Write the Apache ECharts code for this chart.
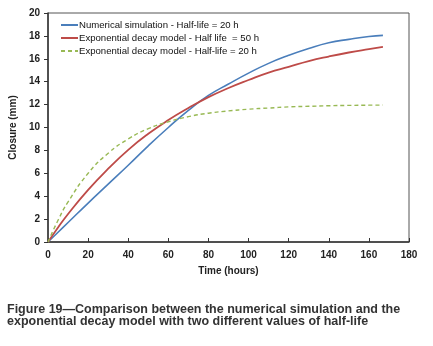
<!DOCTYPE html>
<html>
<head>
<meta charset="utf-8">
<script src="https://cdn.jsdelivr.net/npm/echarts@6/dist/echarts.min.js"></script>
<style>
  html, body { margin: 0; padding: 0; background: #fff; }
  #chart { width: 433px; height: 346px; }
</style>
</head>
<body>
<div id="chart"></div>
<script>
// time in hours
var times = [0, 5, 10, 20, 30, 40, 50, 60, 70, 80, 90, 100, 110, 120, 130, 140, 150, 160, 167];
// closure (mm)
var numericalSim = [0, 0.85, 1.7, 3.4, 5.05, 6.7, 8.4, 10.0, 11.5, 12.8, 13.8, 14.75, 15.6, 16.3, 16.9, 17.4, 17.7, 17.95, 18.05];
var expDecay50 = [0, 1.27, 2.45, 4.55, 6.4, 8.05, 9.45, 10.65, 11.7, 12.65, 13.45, 14.15, 14.8, 15.3, 15.8, 16.2, 16.55, 16.85, 17.05];
var expDecay20 = [0, 1.9, 3.5, 6.0, 7.75, 9.0, 9.9, 10.5, 10.95, 11.25, 11.45, 11.6, 11.7, 11.8, 11.85, 11.9, 11.93, 11.95, 11.96];

var seriesNames = [
    'Numerical simulation - Half-life = 20 h',
    'Exponential decay model - Half life  = 50 h',
    'Exponential decay model - Half-life = 20 h'
];

function pairs(vals) {
    return times.map(function (t, i) { return [t, vals[i]]; });
}

var chart = echarts.init(document.getElementById('chart'));
var axisFont = { fontFamily: 'Liberation Sans', fontSize: 10, fontWeight: 'bold', color: '#222' };

chart.setOption({
    animation: false,
    title: {
        text: 'Figure 19\u2014Comparison between the numerical simulation and the\nexponential decay model with two different values of half-life',
        left: 2,
        top: 298,
        textStyle: {
            fontFamily: 'Liberation Sans',
            fontSize: 12.5,
            fontWeight: 'bold',
            color: '#333',
            lineHeight: 12.5
        }
    },
    legend: {
        orient: 'vertical',
        left: 55,
        top: 15,
        itemGap: 3,
        itemWidth: 17,
        itemHeight: 9,
        itemStyle: { opacity: 0 },
        textStyle: { fontFamily: 'Liberation Sans', fontSize: 9.6, color: '#111', padding: [0, 0, 0, -4] },
        data: seriesNames
    },
    grid: {
        left: 46,
        right: 24,
        top: 13,
        bottom: 104,
        show: true,
        borderColor: '#555',
        borderWidth: 1
    },
    xAxis: {
        type: 'value',
        min: 0,
        max: 180,
        interval: 20,
        name: 'Time (hours)',
        nameLocation: 'middle',
        nameGap: 24,
        nameTextStyle: axisFont,
        axisLine: { lineStyle: { color: '#333', width: 1.5 } },
        axisTick: { inside: true, length: 4, lineStyle: { color: '#333' } },
        axisLabel: Object.assign({ margin: 8 }, axisFont),
        splitLine: { show: false }
    },
    yAxis: {
        type: 'value',
        min: 0,
        max: 20,
        interval: 2,
        name: 'Closure (mm)',
        nameLocation: 'middle',
        nameGap: 23,
        nameTextStyle: axisFont,
        axisLine: { show: true, lineStyle: { color: '#333', width: 1.5 } },
        axisTick: { show: true, length: 4, lineStyle: { color: '#333' } },
        axisLabel: Object.assign({ margin: 8 }, axisFont),
        splitLine: { show: false }
    },
    series: [
        {
            name: seriesNames[0],
            type: 'line',
            smooth: true,
            symbol: 'none',
            data: pairs(numericalSim),
            lineStyle: { color: '#4a7ebb', width: 1.6 },
            itemStyle: { color: '#4a7ebb' }
        },
        {
            name: seriesNames[1],
            type: 'line',
            smooth: true,
            symbol: 'none',
            data: pairs(expDecay50),
            lineStyle: { color: '#be4b48', width: 1.8 },
            itemStyle: { color: '#be4b48' }
        },
        {
            name: seriesNames[2],
            type: 'line',
            smooth: true,
            symbol: 'none',
            data: pairs(expDecay20),
            lineStyle: { color: '#98b954', width: 1.4, type: [4, 3] },
            itemStyle: { color: '#98b954' }
        }
    ]
});
</script>
</body>
</html>
